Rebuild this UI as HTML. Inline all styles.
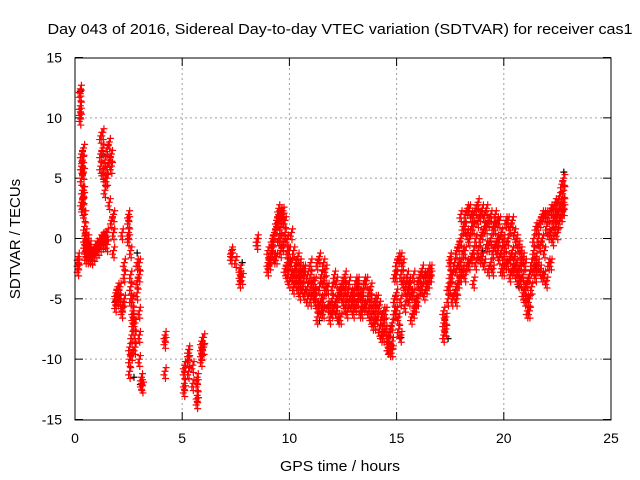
<!DOCTYPE html>
<html><head><meta charset="utf-8"><style>
body{margin:0;background:#fff}
svg{display:block;font-family:"Liberation Sans",sans-serif}
</style></head><body>
<svg id="chart" width="640" height="480">
<text x="340" y="34" font-size="15" text-anchor="middle" textLength="585" lengthAdjust="spacingAndGlyphs">Day 043 of 2016, Sidereal Day-to-day VTEC variation (SDTVAR) for receiver cas1</text>
<text x="340" y="471" font-size="15" text-anchor="middle" textLength="120" lengthAdjust="spacingAndGlyphs">GPS time / hours</text>
<text x="20" y="239" font-size="15" text-anchor="middle" transform="rotate(-90 20 239)">SDTVAR / TECUs</text>
<g id="grid"></g>
<g id="ticks"></g>
<g id="marks"></g>
<rect x="75" y="58" width="536" height="362" fill="none" stroke="#000" stroke-width="1"/>
</svg>
<script>
const xTicks=[0,5,10,15,20,25];
const yTicks=[-15,-10,-5,0,5,10,15];
const groupHours=[0.15,0.25,0.3,0.35,0.4,0.45,0.5,0.6,0.7,0.8,0.9,1.0,1.1,1.2,1.3,1.4,1.5,
1.2,1.3,1.4,1.5,1.6,1.7,1.8,1.9,2.0,2.1,2.2,2.3,2.5,2.6,2.7,2.8,2.55,2.65,2.9,3.0,3.1,3.15,
4.2,5.1,5.3,5.5,5.7,5.9,6.0,
7.3,7.5,7.7,7.8,8.5,
9.0,9.1,9.2,9.3,9.4,9.5,9.6,9.7,9.8,9.9,10.0,10.1,10.2,10.3,10.4,10.5,10.6,10.7,10.85,11.0,11.1,11.2,11.3,11.4,11.5,11.6,11.7,11.8,11.9,12.0,12.1,12.2,12.3,12.4,12.5,12.6,12.7,12.8,12.9,13.0,13.1,13.2,13.3,13.4,13.5,13.6,13.7,13.8,13.9,14.0,14.1,14.2,14.3,14.4,14.5,14.6,14.7,14.8,14.9,15.0,15.1,15.2,15.3,15.4,15.5,15.6,15.7,15.8,15.9,16.0,16.1,16.2,16.3,16.4,16.5,16.6,
17.2,17.3,17.4,17.5,17.6,17.7,17.8,17.9,18.0,18.1,18.2,18.3,18.4,18.5,18.6,18.7,18.8,18.9,19.0,19.1,19.2,19.3,19.4,19.5,19.6,19.7,19.8,19.9,20.0,20.1,20.2,20.3,20.4,20.5,20.6,20.7,20.8,20.9,21.0,21.1,21.2,21.3,21.4,21.5,21.6,21.7,21.8,21.9,22.0,22.1,22.2,22.3,22.4,22.5,22.6,22.7,22.8];
const groupValues=[[-1.5,-2,-2.5],[10,10.5,12,11,12.4],[7,6,5,3],[3,2.5,4,6,6.5],[4,3.5,7.5,5.5],[2,1,0,-0.5],[-0.5,-1,-1.5,0.5],[-0.5,-1,0,-1.5],[-1,-1.5,-0.5],[-1.2,-1.6],[-1.3,-0.8],[-1,-0.5],[-0.8,-0.3],[-0.5,0],[-0.3,0.2],[0.3,-0.2],[0.5,-0.5],
[8.5,7,6],[8.8,7.5,5.5],[6.5,5,4],[7.5,6,5],[8,6.5,3],[6,7,1.5],[2,0.5,-1],[-4.5,-5,-5.5],[-4.5,-5,-4],[-5,-4],[0.5,-6,-5.5],[-2,-3,-5],[2,1.5,0,0.5],[-1,-3,-4,-5],[-6,-7,-5,-6.5],[-7,-9,-8],[-10,-11,-9],[-9.5,-8],[-4.5,-3.5,-2],[-3,-2,-6,-8,-10],[-11.5,-12],[-12.2],
[-11,-8,-8.5],[-12.5,-12,-11,-10.5],[-9.5,-10,-9.2,-11],[-10.5,-12],[-13,-13.5,-11.5,-12],[-9,-8.5,-9.5,-10],[-8.2,-9],
[-1,-1.5,-1.2],[-1.8],[-2.5,-3,-3.5],[-3.2],[-0.3,0],
[-2,-2.5,-1],[-1.5,-2],[-1,-0.5,0],[-1.5,0.5],[-1.5,1,1.5],[2,2.5,1.5,0],[2.2,1,0,-1],[2.3,1.8,-0.5],[1.5,0.5,-2.5],[0,-1,-2,-3],[-1,-2,-3.5],[0.5,-2,-3],[-1,-3,-4],[-2,-2.5,-3.5],[-1.5,-3,-4],[-2,-3,-3.5,-4.5],[-2.5,-4],[-3,-2.5,-4.5],[-3,-4,-5],[-4,-3,-5,-2],[-4.5,-3.5],[-5,-4.5,-3.5],[-5.5,-6.5,-2],[-5.5,-4,-1.5],[-3,-5,-6],[-6,-5,-3.5,-2],[-4,-2.5],[-4,-5.5],[-5.5,-6.5],[-5,-4,-6],[-5.5,-3],[-6,-5,-3.5],[-4.5,-6.5],[-6.5,-4.5,-4],[-5,-3.5],[-5.5,-4,-3],[-4.5,-6],[-5,-3.5],[-4.5,-5.5],[-4.5,-6,-5],[-5.5,-3.5],[-5,-3.5,-4],[-6,-4.5],[-6,-5,-4.5],[-3.5,-5.5],[-5.5,-3.5],[-4.5,-6],[-4,-5,-6.5],[-5.5,-7],[-6,-7,-5],[-6.5,-5],[-5.5,-7.5],[-6.5,-8],[-6,-7,-8],[-7.5,-6],[-8,-8.5,-9],[-7.5,-9.2],[-7,-8.5,-9.2],[-5,-6,-3],[-3,-2,-4.5,-6],[-1.5,-6.5,-7.5],[-1.5,-3,-5,-8],[-2,-3.5],[-4,-5.5],[-3,-4.5],[-4,-5,-3.5],[-4.5,-6.5],[-3,-4.5,-6],[-5,-5.5],[-3.5,-5],[-4,-3],[-2.5,-4],[-3,-4.5],[-3,-4],[-3.5,-2.5],[-3,-2.5],
[-6,-7,-8],[-7.5,-6.5],[-4,-5],[-1.5,-2,-3,-4],[-5,-3],[-2,-4.5],[-1,-2.5,-4,-5],[-0.5,-2,-3.5],[0,-2,-3,2],[1,-1,-2.5],[2,1,-1,-3],[2.5,0.5,-2],[2.5,0,-2],[2,1,-1.5],[2,1,-1,-3.5],[2.5,0,-2],[3,1.5,-1],[2,0,-1.5],[2.5,0.5,-1.5],[2,1,-2],[2.5,1,-0.5],[1.5,-0.5,-2.5],[2,0,-2],[1,-1,-2.5],[2,1,-0.5],[1.5,0,-1],[1.5,0,-1.5],[0.5,-1,-2.5],[0,-1.5,-2.5],[1.5,-0.5,-2],[1.5,0,-2],[1,-1.5,-3],[1.5,-1,-2.5],[0.5,-1.5,-2.5],[0,-2,-3],[-0.5,-2.5,-3.5],[-1,-2,-3.5],[-1.5,-3,-4.5],[-2,-4,-5],[-3.5,-5,-6],[-5,-6,-3],[-4,-2],[0,-1,-2.5],[1,-1.5,-3],[1,0,-2],[1.5,-0.5,-2.5],[2,0,-3],[2,-1,-3],[2,1,-3.5],[2,0.5,-2],[2.5,0.5,-2],[2.5,1.5,0],[3,2,1],[3,2,0.5],[3.5,2.5,1.5],[4.5,3,2],[5,4,3,2.5]];
const blackHours=[0.25,0.35,1.25,1.9,2.75,2.9,3.05,5.75,7.8,9.3,11.4,12.3,14.6,15.2,17.4,19.0,20.7,21.5,22.8];
const blackValues=[12.2,3,7,-5.2,-11.5,-1.2,-12.1,-13.2,-2,-1.8,-6.8,-6.8,-9.3,-8.2,-8.3,-1,-4,-2.3,5.5];
const sx=t=>75+t*(536/25);
const sy=v=>238.5-v*(362/30);
const NS='http://www.w3.org/2000/svg';
const grid=document.getElementById('grid'),ticks=document.getElementById('ticks'),marks=document.getElementById('marks');
function ln(p,x1,y1,x2,y2,c,dash){const l=document.createElementNS(NS,'line');l.setAttribute('x1',x1);l.setAttribute('y1',y1);l.setAttribute('x2',x2);l.setAttribute('y2',y2);l.setAttribute('stroke',c);if(dash)l.setAttribute('stroke-dasharray',dash);p.appendChild(l);return l;}
function tx(p,x,y,s,a){const t=document.createElementNS(NS,'text');t.setAttribute('x',x);t.setAttribute('y',y);t.setAttribute('font-size','14');t.setAttribute('text-anchor',a);t.textContent=s;p.appendChild(t);return t;}
xTicks.forEach(v=>{const x=sx(v);
if(v>0&&v<25){const g=ln(grid,x,58,x,420,'#a0a0a0','2,3');

}
ln(ticks,x,420,x,412,'#000');ln(ticks,x,58,x,66,'#000');
const t=tx(ticks,x,443,String(v),'middle');

});
yTicks.forEach(v=>{const y=sy(v);
if(v>-15&&v<15){const g=ln(grid,75,y,611,y,'#a0a0a0','2,3');

}
ln(ticks,75,y,83,y,'#000');ln(ticks,611,y,603,y,'#000');
const t=tx(ticks,62,y+5,String(v),'end');

});
function plus(t,v,c,name){const x=sx(t),y=sy(v);const p=document.createElementNS(NS,'path');
p.setAttribute('d',`M${x-3.5},${y}H${x+3.5}M${x},${y-3.5}V${y+3.5}`);p.setAttribute('stroke',c);p.setAttribute('stroke-width','1.2');


marks.appendChild(p);}
blackHours.forEach((t,i)=>plus(t,blackValues[i],'#000','black-point'));
groupHours.forEach((t,i)=>{(groupValues[i]||[]).forEach(v=>{
plus(t,v,'#ff0000','red-point');
plus(t+0.05,v+0.3,'#ff0000','red-point');
plus(t-0.05,v-0.3,'#ff0000','red-point');
plus(t+0.02,v-0.6,'#ff0000','red-point');});});
</script>
</body></html>
